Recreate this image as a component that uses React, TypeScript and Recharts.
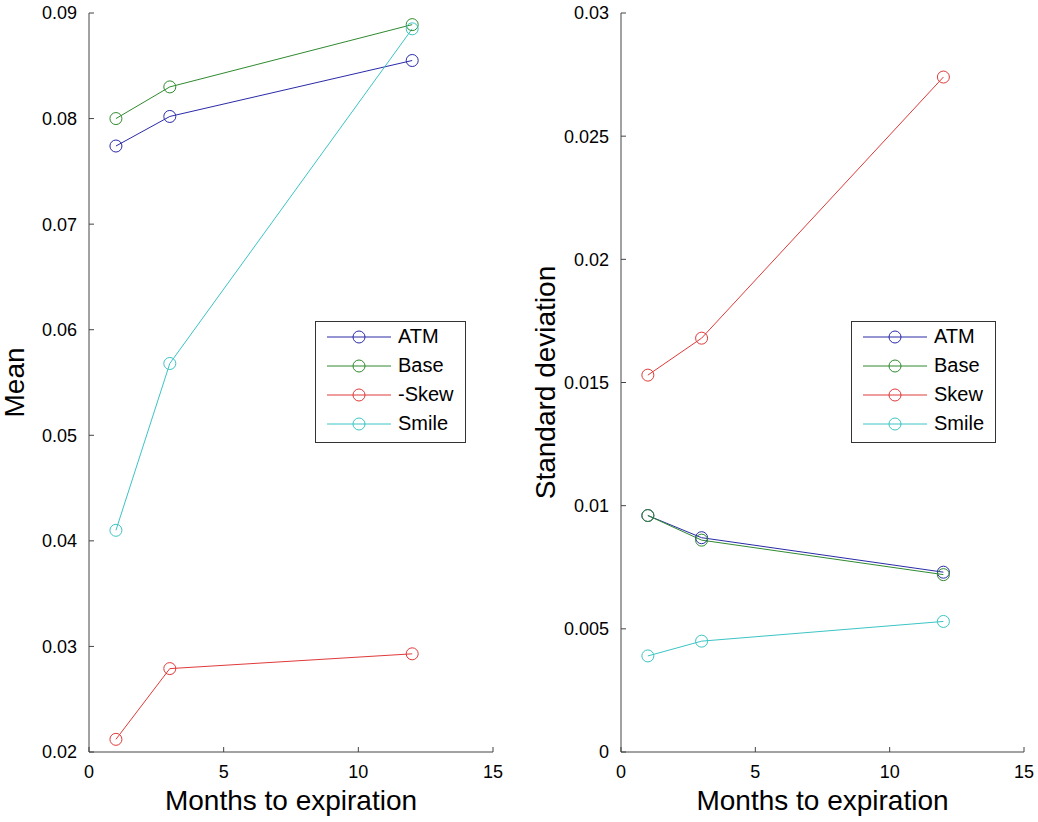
import React from 'react';
import { LineChart, Line, XAxis, YAxis, Legend } from 'recharts';

// x values (months to expiration)
const months = [1, 3, 12];

// left panel: mean
const meanATM = [0.0774, 0.0802, 0.0855];
const meanBase = [0.0800, 0.0830, 0.0889];
const meanNegSkew = [0.0212, 0.0279, 0.0293];
const meanSmile = [0.0410, 0.0568, 0.0885];

// right panel: standard deviation
const sdATM = [0.0096, 0.0087, 0.0073];
const sdBase = [0.0096, 0.0086, 0.0072];
const sdSkew = [0.0153, 0.0168, 0.0274];
const sdSmile = [0.0039, 0.0045, 0.0053];

const xTicks = [0, 5, 10, 15];
const meanTicks = [0.02, 0.03, 0.04, 0.05, 0.06, 0.07, 0.08, 0.09];
const sdTicks = [0, 0.005, 0.01, 0.015, 0.02, 0.025, 0.03];

const COLORS = ['#2a2aa8', '#2f8a2f', '#e03a3a', '#3cc4c4'];
const FONT = '"Liberation Sans", Arial, Helvetica, sans-serif';
const AXIS = '#444';
const TICK_LEN = 5;

const buildRows = (series: number[][]) =>
  months.map((m, i) => ({ m, s0: series[0][i], s1: series[1][i], s2: series[2][i], s3: series[3][i] }));

const meanRows = buildRows([meanATM, meanBase, meanNegSkew, meanSmile]);
const sdRows = buildRows([sdATM, sdBase, sdSkew, sdSmile]);

// recharts puts the tick point at axis +/- (tickSize + tickMargin);
// tickSize=6 everywhere, so the axis line sits at a known distance from it.
// bottom: y = axis + 6 + 7, left: x = axis - 6 - 6, top: y = axis - 6 - 1, right: x = axis + 6 + 1
const BottomTick = ({ x, y, payload }: any) => (
  <g>
    <line x1={x} x2={x} y1={y - 13} y2={y - 13 - TICK_LEN} stroke={AXIS} />
    <text x={x} y={y} dy="0.71em" textAnchor="middle" fontSize={18} fill="#000">{payload.value}</text>
  </g>
);
const LeftTick = ({ x, y, payload }: any) => (
  <g>
    <line x1={x + 12} x2={x + 12 + TICK_LEN} y1={y} y2={y} stroke={AXIS} />
    <text x={x} y={y} dy="0.355em" textAnchor="end" fontSize={18} fill="#000">{String(payload.value)}</text>
  </g>
);
const TopTick = ({ x, y }: any) => <line x1={x} x2={x} y1={y + 7} y2={y + 7 + TICK_LEN} stroke={AXIS} />;
const RightTick = ({ x, y }: any) => <line x1={x - 7} x2={x - 7 - TICK_LEN} y1={y} y2={y} stroke={AXIS} />;

const LegendBox = ({ names, width }: { names: string[]; width: number }) => (
  <div
    style={{
      border: '1px solid #333',
      background: '#fff',
      width,
      boxSizing: 'border-box',
      paddingBottom: 4,
      fontFamily: FONT,
      fontSize: 20,
      color: '#000',
    }}
  >
    {names.map((n, i) => (
      <div key={n} style={{ display: 'flex', alignItems: 'center', height: 29 }}>
        <svg width={82} height={16} style={{ flex: 'none' }}>
          <line x1={11} y1={8} x2={75} y2={8} stroke={COLORS[i]} strokeWidth={1} />
          <circle cx={43} cy={8} r={6} fill="none" stroke={COLORS[i]} strokeWidth={1} />
        </svg>
        <span>{n}</span>
      </div>
    ))}
  </div>
);

interface PanelProps {
  rows: any[];
  names: string[];
  ticks: number[];
  domain: [number, number];
  yLabel: string;
  left: number;
  width: number;
  yAxisWidth: number;
  rightMargin: number;
  legendLeft: number;
  legendWidth: number;
  labelOffset: number;
}

const Panel = ({ rows, names, ticks, domain, yLabel, left, width, yAxisWidth, rightMargin, legendLeft, legendWidth, labelOffset }: PanelProps) => (
  <div style={{ position: 'absolute', left, top: 0 }}>
    <LineChart
      width={width}
      height={822}
      data={rows}
      margin={{ top: 13, right: rightMargin, bottom: 0, left: 0 }}
      style={{ fontFamily: FONT }}
    >
      <XAxis
        dataKey="m"
        type="number"
        domain={[0, 15]}
        ticks={xTicks}
        height={70}
        tickSize={6}
        tickMargin={7}
        tickLine={false}
        stroke={AXIS}
        tick={BottomTick}
        label={{ value: 'Months to expiration', position: 'insideBottom', offset: 12, fill: '#000', fontSize: 28 }}
      />
      <XAxis
        xAxisId="top"
        orientation="top"
        dataKey="m"
        type="number"
        domain={[0, 15]}
        ticks={xTicks}
        height={0}
        tickSize={6}
        tickMargin={1}
        tickLine={false}
        tick={TopTick}
        stroke={AXIS}
      />
      <YAxis
        type="number"
        domain={domain}
        ticks={ticks}
        width={yAxisWidth}
        tickSize={6}
        tickMargin={6}
        tickLine={false}
        stroke={AXIS}
        tick={LeftTick}
        label={{ value: yLabel, angle: -90, position: 'insideLeft', offset: labelOffset, fill: '#000', fontSize: 28, style: { textAnchor: 'middle' } }}
      />
      <YAxis
        yAxisId="right"
        orientation="right"
        type="number"
        domain={domain}
        ticks={ticks}
        width={0}
        tickSize={6}
        tickMargin={1}
        tickLine={false}
        tick={RightTick}
        stroke={AXIS}
      />
      <Legend
        layout="horizontal"
        verticalAlign="middle"
        align="center"
        wrapperStyle={{ left: legendLeft, top: 321, width: legendWidth }}
        content={() => <LegendBox names={names} width={legendWidth} />}
      />
      {names.map((n, i) => (
        <Line
          key={n}
          dataKey={`s${i}`}
          name={n}
          stroke={COLORS[i]}
          strokeWidth={1}
          dot={{ r: 6, fill: 'none', stroke: COLORS[i], strokeWidth: 1 }}
          activeDot={false}
          isAnimationActive={false}
        />
      ))}
    </LineChart>
  </div>
);

export default function App() {
  return (
    <div style={{ position: 'absolute', left: 0, top: 0, width: 1038, height: 822, background: '#fff' }}>
      <Panel
        rows={meanRows}
        names={['ATM', 'Base', '-Skew', 'Smile']}
        ticks={meanTicks}
        domain={[0.02, 0.09]}
        yLabel="Mean"
        left={0}
        width={520}
        yAxisWidth={89}
        rightMargin={27}
        legendLeft={315}
        legendWidth={151}
        labelOffset={14}
      />
      <Panel
        rows={sdRows}
        names={['ATM', 'Base', 'Skew', 'Smile']}
        ticks={sdTicks}
        domain={[0, 0.03]}
        yLabel="Standard deviation"
        left={530}
        width={508}
        yAxisWidth={91}
        rightMargin={14}
        legendLeft={321}
        legendWidth={145}
        labelOffset={15}
      />
    </div>
  );
}
